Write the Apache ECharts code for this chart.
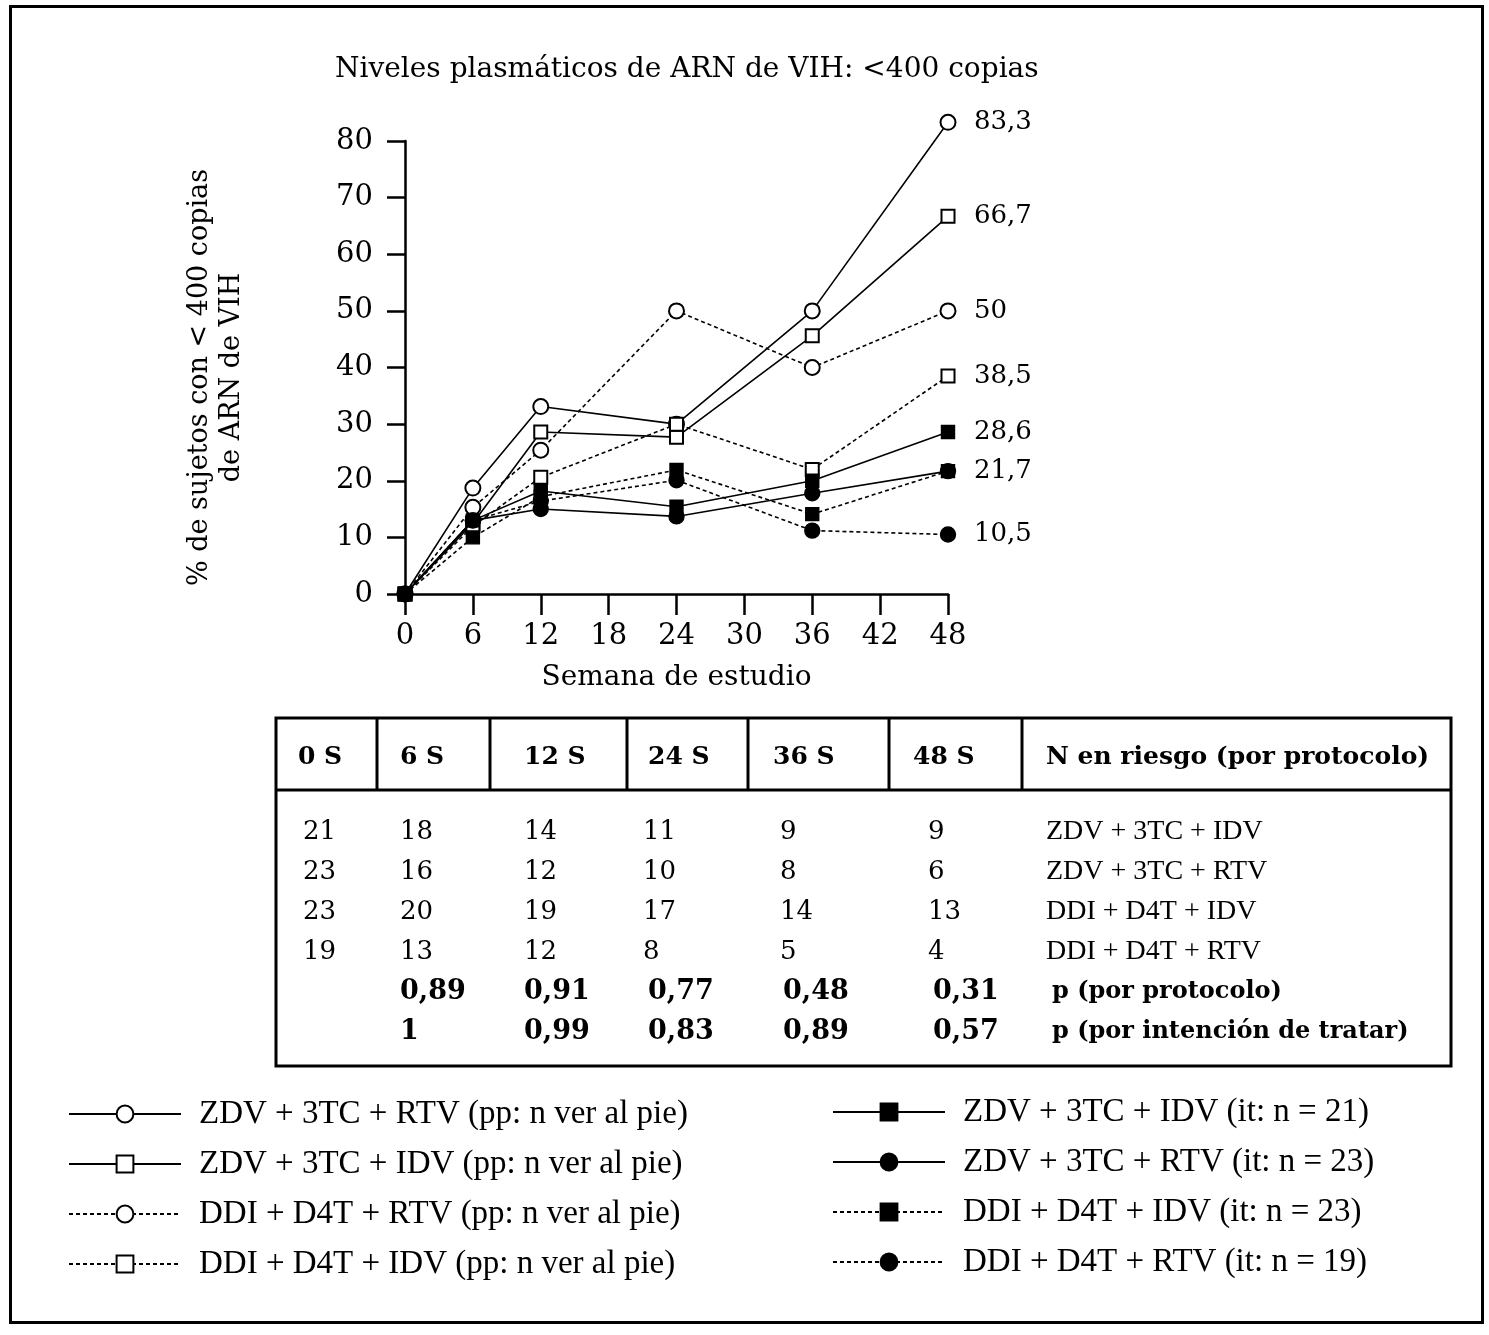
<!DOCTYPE html>
<html>
<head>
<meta charset="utf-8">
<script src="https://cdn.jsdelivr.net/npm/echarts@6/dist/echarts.min.js"></script>
<style>
  html, body { margin: 0; padding: 0; background: #fff; }
  #chart { width: 1489px; height: 1335px; }
</style>
</head>
<body>
<div id="chart"></div>
<script>
// ---------- DATA ----------
const weeks = [0, 6, 12, 24, 36, 48];
const xTicks = [0, 6, 12, 18, 24, 30, 36, 42, 48];

const seriesNames = [
  'ZDV + 3TC + RTV (pp: n ver al pie)',
  'ZDV + 3TC + IDV (pp: n ver al pie)',
  'DDI + D4T + RTV (pp: n ver al pie)',
  'DDI + D4T + IDV (pp: n ver al pie)',
  'ZDV + 3TC + IDV (it: n = 21)',
  'ZDV + 3TC + RTV (it: n = 23)',
  'DDI + D4T + IDV (it: n = 23)',
  'DDI + D4T + RTV (it: n = 19)'
];
const zdvRtvPP = [0, 18.7, 33.1, 30, 50, 83.3];
const zdvIdvPP = [0, 12.5, 28.6, 27.7, 45.6, 66.7];
const ddiRtvPP = [0, 15.3, 25.4, 50, 40, 50];
const ddiIdvPP = [0, 12, 20.6, 30, 22, 38.5];
const zdvIdvIT = [0, 13, 18.2, 15.4, 20, 28.6];
const zdvRtvIT = [0, 13, 15.0, 13.7, 17.8, 21.7];
const ddiIdvIT = [0, 10, 17.2, 21.9, 14.1, 21.7];
const ddiRtvIT = [0, 13, 16.4, 20.1, 11.2, 10.5];

const tableHeader = ['0 S', '6 S', '12 S', '24 S', '36 S', '48 S', 'N en riesgo (por protocolo)'];
const nAtRisk = [
  [21, 18, 14, 11, 9, 9],
  [23, 16, 12, 10, 8, 6],
  [23, 20, 19, 17, 14, 13],
  [19, 13, 12, 8, 5, 4]
];
const nAtRiskLabels = ['ZDV + 3TC + IDV', 'ZDV + 3TC + RTV', 'DDI + D4T + IDV', 'DDI + D4T + RTV'];
const pProtocol = ['0,89', '0,91', '0,77', '0,48', '0,31'];
const pIntention = ['1', '0,99', '0,83', '0,89', '0,57'];
const pLabels = ['p (por protocolo)', 'p (por intención de tratar)'];

// ---------- STYLE ----------
const SERIF = 'DejaVu Serif';
const COND = 'Liberation Serif';
const DASH = [4, 3];

const chart = echarts.init(document.getElementById('chart'), null, { renderer: 'canvas' });

function pts(vals) { return weeks.map((w, i) => [w, vals[i]]); }
function fmt(p) { return String(p.value[1]).replace('.', ','); }

function mkSeries(name, vals, symbol, size, dashed, showEnd, z) {
  return {
    name: name,
    type: 'line',
    data: pts(vals),
    clip: false,
    symbol: symbol,
    symbolSize: size,
    showAllSymbol: true,
    z: z,
    lineStyle: { color: '#000', width: 1.6, type: dashed ? DASH : 'solid' },
    itemStyle: { color: '#000', borderColor: '#000', borderWidth: 1.4 },
    emphasis: { disabled: true },
    endLabel: {
      show: showEnd,
      formatter: fmt,
      distance: 26,
      fontFamily: SERIF,
      fontSize: 26,
      color: '#000'
    }
  };
}

const series = [
  mkSeries(seriesNames[0], zdvRtvPP, 'emptyCircle', 15, false, true, 2),
  mkSeries(seriesNames[1], zdvIdvPP, 'emptyRect', 13, false, true, 3),
  mkSeries(seriesNames[2], ddiRtvPP, 'emptyCircle', 15, true, true, 2),
  mkSeries(seriesNames[3], ddiIdvPP, 'emptyRect', 13, true, true, 4),
  mkSeries(seriesNames[4], zdvIdvIT, 'rect', 13, false, true, 5),
  mkSeries(seriesNames[5], zdvRtvIT, 'circle', 15, false, true, 6),
  mkSeries(seriesNames[6], ddiIdvIT, 'rect', 13, true, false, 5),
  mkSeries(seriesNames[7], ddiRtvIT, 'circle', 15, true, true, 6)
];

// ---------- TABLE (graphic) ----------
const T = { x0: 276, y0: 718, x1: 1451, y1: 1066, headY: 790 };
const headX = [298, 400, 524, 648, 773, 913, 1046];
const divX = [377, 490, 627, 748, 889, 1022];
const bodyX = [303, 400, 524, 643, 780, 928];
const pX = [400, 524, 648, 783, 933];
const rowY = [832, 872, 912, 952, 992, 1032];

const graphics = [];
graphics.push({ type: 'rect', shape: { x: 10.5, y: 6.5, width: 1472, height: 1316 },
  style: { fill: 'none', stroke: '#000', lineWidth: 3 } });
graphics.push({ type: 'rect', shape: { x: T.x0, y: T.y0, width: T.x1 - T.x0, height: T.y1 - T.y0 },
  style: { fill: 'none', stroke: '#000', lineWidth: 3 } });
graphics.push({ type: 'line', shape: { x1: T.x0, y1: T.headY, x2: T.x1, y2: T.headY },
  style: { stroke: '#000', lineWidth: 3 } });
divX.forEach(x => graphics.push({ type: 'line', shape: { x1: x, y1: T.y0, x2: x, y2: T.headY },
  style: { stroke: '#000', lineWidth: 3 } }));
tableHeader.forEach((t, i) => graphics.push({ type: 'text', x: headX[i], y: 757,
  style: { text: t, font: 'bold 25px "' + SERIF + '"', fill: '#000', verticalAlign: 'middle', align: 'left' } }));
nAtRisk.forEach((row, r) => {
  row.forEach((v, c) => graphics.push({ type: 'text', x: bodyX[c], y: rowY[r],
    style: { text: String(v), font: '26px "' + SERIF + '"', fill: '#000', verticalAlign: 'middle', align: 'left' } }));
  graphics.push({ type: 'text', x: 1046, y: rowY[r],
    style: { text: nAtRiskLabels[r], font: '28px "' + COND + '"', fill: '#000', verticalAlign: 'middle', align: 'left' } });
});
[pProtocol, pIntention].forEach((row, r) => {
  row.forEach((v, c) => graphics.push({ type: 'text', x: pX[c], y: rowY[4 + r],
    style: { text: v, font: 'bold 27px "' + SERIF + '"', fill: '#000', verticalAlign: 'middle', align: 'left' } }));
  graphics.push({ type: 'text', x: 1052, y: rowY[4 + r],
    style: { text: pLabels[r], font: 'bold 24px "' + SERIF + '"', fill: '#000', verticalAlign: 'middle', align: 'left' } });
});

const legendCommon = {
  orient: 'vertical',
  padding: 0,
  itemWidth: 112,
  itemHeight: 21,
  itemGap: 16,
  selectedMode: false,
  textStyle: { fontFamily: COND, fontSize: 33, color: '#000', lineHeight: 34, padding: [0, 0, 0, 13] }
};

const option = {
  animation: false,
  backgroundColor: '#fff',
  title: {
    text: 'Niveles plasmáticos de ARN de VIH: <400 copias',
    left: 330, top: 51,
    textStyle: { fontFamily: SERIF, fontSize: 28, fontWeight: 'normal', color: '#000' }
  },
  legend: [
    Object.assign({}, legendCommon, { left: 68, top: 1097, data: seriesNames.slice(0, 4) }),
    Object.assign({}, legendCommon, { left: 832, top: 1095, data: seriesNames.slice(4) })
  ],
  grid: { left: 405, top: 141, width: 543, height: 453 },
  xAxis: {
    type: 'value', min: 0, max: 48, interval: 6,
    name: 'Semana de estudio', nameLocation: 'middle', nameGap: 70,
    nameTextStyle: { fontFamily: SERIF, fontSize: 28, color: '#000' },
    axisLine: { lineStyle: { color: '#000', width: 2.5 } },
    axisTick: { length: 21, lineStyle: { color: '#000', width: 2.5 } },
    axisLabel: { fontFamily: SERIF, fontSize: 29, color: '#000', margin: 28,
      formatter: v => (xTicks.indexOf(v) >= 0 ? String(v) : '') },
    splitLine: { show: false }
  },
  yAxis: {
    type: 'value', min: 0, max: 80, interval: 10,
    name: '% de sujetos con < 400 copias\nde ARN de VIH',
    nameLocation: 'middle', nameRotate: 90, nameGap: 157,
    nameTextStyle: { fontFamily: SERIF, fontSize: 27, color: '#000', lineHeight: 32, align: 'center', padding: [0, 20, 0, 0] },
    axisLine: { lineStyle: { color: '#000', width: 2.5 } },
    axisTick: { length: 18, lineStyle: { color: '#000', width: 2.5 } },
    axisLabel: { fontFamily: SERIF, fontSize: 29, color: '#000', margin: 32 },
    splitLine: { show: false }
  },
  series: series,
  graphic: graphics
};

chart.setOption(option);
</script>
</body>
</html>
